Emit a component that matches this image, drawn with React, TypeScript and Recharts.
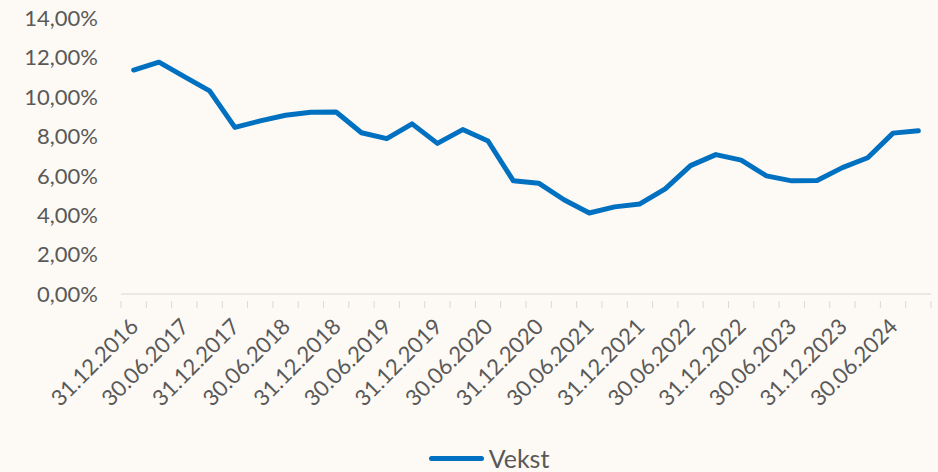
import React from "react";
import { LineChart, Line, XAxis, YAxis, Legend } from "recharts";

// quarter-end dates, 31.12.2016 -> 30.09.2024
const dates = [
  "31.12.2016", "31.03.2017", "30.06.2017", "30.09.2017",
  "31.12.2017", "31.03.2018", "30.06.2018", "30.09.2018",
  "31.12.2018", "31.03.2019", "30.06.2019", "30.09.2019",
  "31.12.2019", "31.03.2020", "30.06.2020", "30.09.2020",
  "31.12.2020", "31.03.2021", "30.06.2021", "30.09.2021",
  "31.12.2021", "31.03.2022", "30.06.2022", "30.09.2022",
  "31.12.2022", "31.03.2023", "30.06.2023", "30.09.2023",
  "31.12.2023", "31.03.2024", "30.06.2024", "30.09.2024",
];

// growth in percent
const vekst = [
  11.36, 11.76, 11.03, 10.3,
  8.45, 8.78, 9.07, 9.22,
  9.23, 8.18, 7.88, 8.63,
  7.64, 8.34, 7.76, 5.74,
  5.62, 4.78, 4.11, 4.42,
  4.57, 5.33, 6.51, 7.07,
  6.79, 5.99, 5.74, 5.76,
  6.41, 6.91, 8.16, 8.28,
];

const yTicks = [0, 2, 4, 6, 8, 10, 12, 14];

const W = 938;
const H = 472;
const margin = { top: 18, right: 7, bottom: 0, left: 0 };
const yAxisWidth = 121;
const plotWidth = W - margin.left - margin.right - yAxisWidth;
const halfStep = plotWidth / dates.length / 2;

const BG = "#FDF9F5";
const TEXT = "#595959";
const AXIS = "#D9D9D9";
const BLUE = "#0070C0";
const FONT = "Lato, sans-serif";

const chartData = dates.map((d, i) => ({ date: d, vekst: vekst[i] }));

const fmtPct = (v: number) => v.toFixed(2).replace(".", ",") + "%";

const XTick = (props: any) => {
  const { x, y, payload, index } = props;
  const last = index === dates.length - 1;
  const tx = x + 6;
  const ty = y + 26;
  return (
    <g>
      <line x1={x - halfStep} x2={x - halfStep} y1={y - 1} y2={y + 6} stroke={AXIS} />
      {last && (
        <line x1={x + halfStep} x2={x + halfStep} y1={y - 1} y2={y + 6} stroke={AXIS} />
      )}
      {index % 2 === 0 && (
        <text
          x={tx}
          y={ty}
          transform={`rotate(-45, ${tx}, ${ty})`}
          textAnchor="end"
          fill={TEXT}
          fontSize={22}
          fontFamily={FONT}
        >
          {payload.value}
        </text>
      )}
    </g>
  );
};

const renderLegend = () => (
  <div
    style={{
      display: "flex",
      alignItems: "center",
      justifyContent: "center",
      paddingLeft: 40,
      fontFamily: FONT,
      fontSize: 25,
      color: TEXT,
    }}
  >
    <span
      style={{
        display: "inline-block",
        width: 55,
        height: 5,
        borderRadius: 3,
        background: BLUE,
        marginRight: 5,
      }}
    />
    <span>Vekst</span>
  </div>
);

export default function App() {
  return (
    <div
      style={{
        position: "absolute",
        left: 0,
        top: 0,
        width: W,
        height: H,
        background: BG,
      }}
    >
      <LineChart width={W} height={H} data={chartData} margin={margin}>
        <XAxis
          dataKey="date"
          interval={0}
          height={148}
          tick={<XTick />}
          tickLine={false}
          stroke={AXIS}
          padding={{ left: halfStep, right: halfStep }}
        />
        <YAxis
          width={yAxisWidth}
          domain={[0, 14]}
          ticks={yTicks}
          tickFormatter={fmtPct}
          axisLine={false}
          tickLine={false}
          tickSize={0}
          tickMargin={23}
          tick={{ fill: TEXT, fontSize: 22, fontFamily: FONT }}
        />
        <Legend
          content={renderLegend}
          wrapperStyle={{ top: 443, left: 0, width: W }}
        />
        <Line
          type="linear"
          dataKey="vekst"
          name="Vekst"
          stroke={BLUE}
          strokeWidth={5}
          strokeLinecap="round"
          strokeLinejoin="round"
          dot={false}
          activeDot={false}
          isAnimationActive={false}
        />
      </LineChart>
    </div>
  );
}
